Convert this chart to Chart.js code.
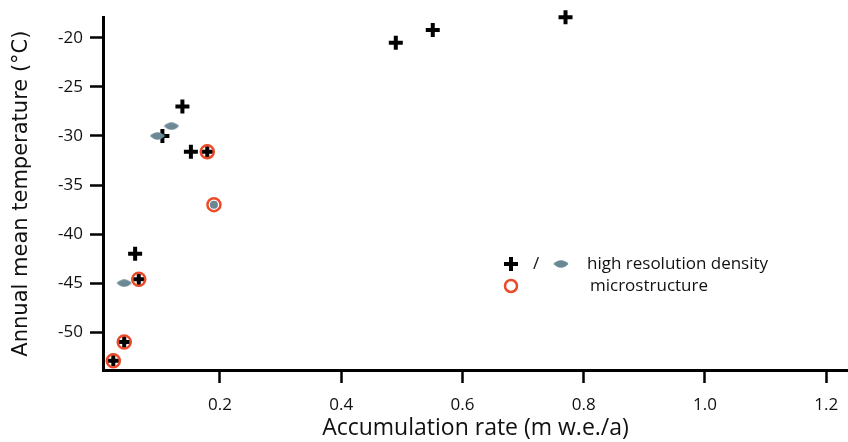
<!DOCTYPE html>
<html>
<head>
<meta charset="utf-8">
<script src="https://cdn.jsdelivr.net/npm/chart.js@4"></script>
<style>
  body { margin: 0; background: #fff; }
</style>
</head>
<body>
<canvas id="accChart" width="848" height="442"></canvas>
<script>
// density (plus) points
const plusX = [0.024, 0.042, 0.060, 0.066, 0.105, 0.138, 0.152, 0.179, 0.490, 0.551, 0.770];
const plusY = [-52.9, -51.0, -42.0, -44.6, -30.0, -27.0, -31.6, -31.6, -20.5, -19.2, -17.9];
// high resolution density (grey) points
const greyX = [0.042, 0.097, 0.120];
const greyY = [-45.0, -30.0, -29.0];
const greyDotX = [0.190];
const greyDotY = [-37.0];
// microstructure (red circles)
const microX = [0.024, 0.042, 0.066, 0.179, 0.190];
const microY = [-52.9, -51.0, -44.6, -31.6, -37.0];

const xTicks = [0.2, 0.4, 0.6, 0.8, 1.0, 1.2];
const yTicks = [-50, -45, -40, -35, -30, -25, -20];

const GREY = '#6b8894';
const RED = '#ea4b2a';

// flattened diamond marker
function makeLens() {
  const c = document.createElement('canvas');
  c.width = 16; c.height = 8;
  const g = c.getContext('2d');
  g.fillStyle = GREY;
  g.beginPath();
  g.moveTo(0.5, 4);
  g.quadraticCurveTo(4, 0.3, 8, 0.3);
  g.quadraticCurveTo(12, 0.3, 15.5, 4);
  g.quadraticCurveTo(12, 7.7, 8, 7.7);
  g.quadraticCurveTo(4, 7.7, 0.5, 4);
  g.fill();
  return c;
}
const lens = makeLens();

const pts = (xs, ys) => xs.map((x, i) => ({ x: x, y: ys[i] }));

const legendPlugin = {
  id: 'customLegend',
  afterDraw(chart) {
    const ctx = chart.ctx;
    const drawPoint = Chart.helpers.drawPoint;
    ctx.save();
    ctx.strokeStyle = '#000';
    ctx.lineWidth = 4;
    drawPoint(ctx, { pointStyle: 'cross', radius: 7, borderWidth: 4 }, 511, 264);
    drawPoint(ctx, { pointStyle: lens, radius: 7 }, 561, 264);
    ctx.strokeStyle = RED;
    ctx.lineWidth = 2.5;
    ctx.fillStyle = 'rgba(0,0,0,0)';
    drawPoint(ctx, { pointStyle: 'circle', radius: 6, borderWidth: 2.5 }, 511, 286);
    ctx.fillStyle = '#111';
    ctx.font = '17px "Open Sans"';
    ctx.textBaseline = 'middle';
    ctx.fillText('/', 533, 264);
    ctx.fillText('high resolution density', 587, 264);
    ctx.fillText('microstructure', 590, 286);
    ctx.restore();
  }
};

new Chart(document.getElementById('accChart').getContext('2d'), {
  type: 'scatter',
  data: {
    datasets: [
      {
        label: 'microstructure',
        data: pts(microX, microY),
        pointStyle: 'circle',
        pointRadius: 6.5,
        pointHoverRadius: 6.5,
        borderColor: RED,
        backgroundColor: 'rgba(0,0,0,0)',
        pointBorderWidth: 2.5,
        clip: false
      },
      {
        label: 'density dot',
        data: pts(greyDotX, greyDotY),
        pointStyle: 'circle',
        pointRadius: 4,
        borderWidth: 0,
        backgroundColor: GREY,
        clip: false
      },
      {
        label: 'high resolution density',
        data: pts(greyX, greyY),
        pointStyle: lens,
        pointRadius: 7,
        clip: false
      },
      {
        label: 'density',
        data: pts(plusX, plusY),
        pointStyle: 'cross',
        pointRadius: 7,
        pointHoverRadius: 7,
        borderColor: '#000',
        pointBorderWidth: 4,
        clip: false
      }
    ]
  },
  options: {
    responsive: false,
    animation: false,
    devicePixelRatio: 1,
    layout: { autoPadding: false, padding: { top: 15, right: 0, left: 0, bottom: 0 } },
    plugins: { legend: { display: false }, tooltip: { enabled: false } },
    scales: {
      x: {
        type: 'linear',
        min: 0.007,
        max: 1.236,
        afterFit: s => { s.height = 72; s.paddingRight = 0; s.paddingLeft = 0; },
        afterBuildTicks: s => { s.ticks = xTicks.map(v => ({ value: v })); },
        border: { display: true, color: '#000', width: 3 },
        grid: { drawOnChartArea: false, drawTicks: true, tickLength: 13, tickColor: '#000', tickWidth: 2.5 },
        ticks: {
          color: '#111',
          padding: 12,
          font: { family: 'Open Sans', size: 17 },
          callback: v => v.toFixed(1)
        },
        title: {
          display: true,
          text: 'Accumulation rate (m w.e./a)',
          color: '#111',
          font: { family: 'Open Sans', size: 23 },
          padding: { top: 0, bottom: 0 }
        }
      },
      y: {
        type: 'linear',
        min: -53.85,
        max: -17.9,
        afterFit: s => { s.width = 103; },
        afterBuildTicks: s => { s.ticks = yTicks.map(v => ({ value: v })); },
        border: { display: true, color: '#000', width: 3 },
        grid: { drawOnChartArea: false, drawTicks: true, tickLength: 13, tickColor: '#000', tickWidth: 2.5 },
        ticks: {
          color: '#111',
          padding: 7,
          font: { family: 'Open Sans', size: 17 },
          callback: v => String(v)
        },
        title: {
          display: true,
          text: 'Annual mean temperature (°C)',
          color: '#111',
          font: { family: 'DejaVu Sans', size: 21 },
          padding: { top: 9, bottom: 0 }
        }
      }
    }
  },
  plugins: [legendPlugin]
});
</script>
</body>
</html>
